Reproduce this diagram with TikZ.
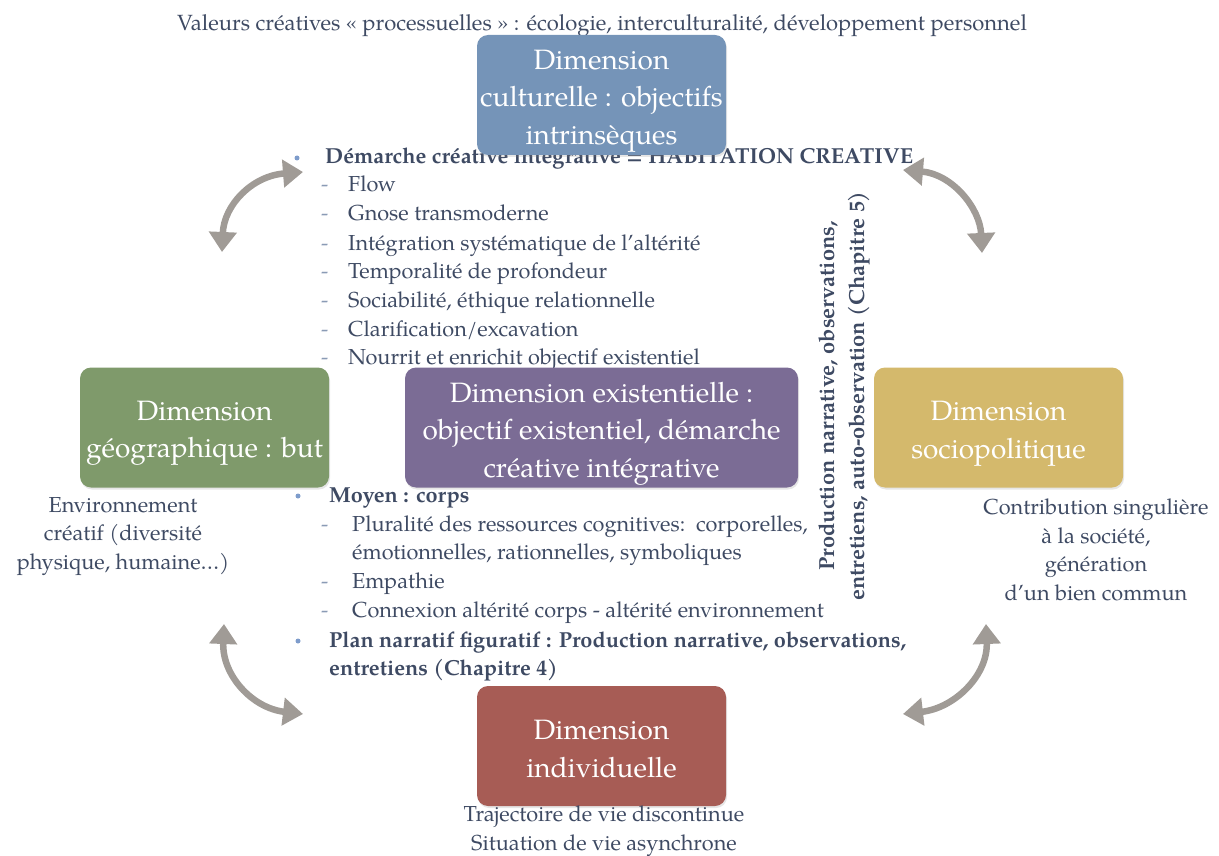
\documentclass[tikz,border=0pt]{standalone}
\usepackage{fontspec}
\setmainfont{TeX Gyre Pagella}
\usetikzlibrary{arrows.meta,shadows}
\definecolor{txt}{HTML}{3E4A63}
\definecolor{bul}{HTML}{7E9CCB}
\definecolor{dsh}{HTML}{8A9BB5}
\definecolor{cblue}{HTML}{7594B8}
\definecolor{cgreen}{HTML}{7F9A6B}
\definecolor{cpurple}{HTML}{7B6C95}
\definecolor{cgold}{HTML}{D4B96C}
\definecolor{cred}{HTML}{A75C55}
\definecolor{agray}{HTML}{A09B96}
\newcommand\bodyfont{\fontsize{21.7}{28.5}\selectfont}
\newcommand\boxfont{\fontsize{28}{37.5}\selectfont}
\begin{document}
\begin{tikzpicture}[x=1pt,y=-1pt,
  dimbox/.style={rounded corners=11pt, minimum width=249pt, minimum height=120pt,
    inner sep=0pt,
    drop shadow={opacity=0.2, shadow xshift=1pt, shadow yshift=-2pt}},
  boxtext/.style={text=white, font=\boxfont, align=center, inner sep=0pt, yshift=-6pt},
  item/.style={anchor=base west, text=txt, font=\bodyfont, inner sep=0pt},
  bitem/.style={item, font=\bodyfont\bfseries},
  dashmark/.style={anchor=base west, text=dsh, font=\bodyfont, inner sep=0pt},
  bulletdot/.style={circle, fill=bul, minimum size=5pt, inner sep=0pt},
  note/.style={text=txt, font=\bodyfont, align=center, inner sep=0pt, anchor=base},
  twoway/.style={draw=agray, line width=6.5pt, line cap=round,
    {Triangle[length=20pt,width=27pt]}-{Triangle[length=20pt,width=27pt]}}
]
\useasboundingbox (0,0) rectangle (1219,856);

% top caption
\node[note, font=\fontsize{22}{28}\selectfont] (values) at (602,31) {Valeurs créatives « processuelles » : écologie, interculturalité, développement personnel};

% list 1
\node[bulletdot] (b1) at (297,158) {};
\node[bitem] (l0) at (325,164) {Démarche créative intégrative = HABITATION CREATIVE};
\node[dashmark] (m1) at (321,192) {-};
\node[item] (l1) at (348,192) {Flow};
\node[dashmark] (m2) at (321,221) {-};
\node[item] (l2) at (348,221) {Gnose transmoderne};
\node[dashmark] (m3) at (321,250) {-};
\node[item] (l3) at (348,250) {Intégration systématique de l’altérité};
\node[dashmark] (m4) at (321,278) {-};
\node[item] (l4) at (348,278) {Temporalité de profondeur};
\node[dashmark] (m5) at (321,307) {-};
\node[item] (l5) at (348,307) {Sociabilité, éthique relationnelle};
\node[dashmark] (m6) at (321,336) {-};
\node[item] (l6) at (348,336) {Clarification/excavation};
\node[dashmark] (m7) at (321,364) {-};
\node[item] (l7) at (348,364) {Nourrit et enrichit objectif existentiel};

% list 2
\node[bulletdot] (b2) at (298,496) {};
\node[bitem] (k0) at (329,502) {Moyen : corps};
\node[dashmark] (n1) at (321,531) {-};
\node[item] (k1) at (352,531) {Pluralité des ressources cognitives:\ \ corporelles,};
\node[item] (k2) at (352,559) {émotionnelles, rationnelles, symboliques};
\node[dashmark] (n3) at (321,588) {-};
\node[item] (k3) at (352,588) {Empathie};
\node[dashmark] (n4) at (321,617) {-};
\node[item] (k4) at (352,617) {Connexion altérité corps - altérité environnement};
\node[bulletdot] (b3) at (298,641) {};
\node[bitem] (k5) at (329,647) {Plan narratif figuratif : Production narrative, observations,};
\node[bitem] (k6) at (329,675) {entretiens (Chapitre 4)};

% vertical text
\node[rotate=90, text=txt, font=\fontsize{21.8}{30}\selectfont\bfseries, align=center, inner sep=0pt] (vert) at (844,396)
  {Production narrative, observations,\\entretiens, auto-observation (Chapitre 5)};

% boxes
\node[dimbox, fill=cblue] (cult) at (601.5,95) {};
\node[boxtext] (cultT) at (cult.center) {Dimension\\culturelle : objectifs\\intrinsèques};
\node[dimbox, fill=cgreen] (geo) at (204.5,427.5) {};
\node[boxtext] (geoT) at (geo.center) {Dimension\\géographique : but};
\node[dimbox, fill=cpurple, minimum width=393pt] (exist) at (601.5,427.5) {};
\node[boxtext] (existT) at (exist.center) {Dimension existentielle :\\objectif existentiel, démarche\\créative intégrative};
\node[dimbox, fill=cgold] (socio) at (998.5,427.5) {};
\node[boxtext] (socioT) at (socio.center) {Dimension\\sociopolitique};
\node[dimbox, fill=cred] (indiv) at (601.5,746) {};
\node[boxtext, yshift=3pt] (indivT) at (indiv.center) {Dimension\\individuelle};

% notes (anchor = baseline of last line)
\node[note] (envnote) at (123,569) {Environnement\\créatif (diversité\\physique, humaine…)};
\node[note] (socnote) at (1096,600) {Contribution singulière\\à la société,\\génération\\d’un bien commun};
\node[note] (indnote) at (604,850) {Trajectoire de vie discontinue\\Situation de vie asynchrone};

% arrows
\coordinate (tlA) at (222,252);
\coordinate (tlB) at (303,172);
\coordinate (trA) at (903,170);
\coordinate (trB) at (982,253);
\coordinate (blA) at (224,624);
\coordinate (blB) at (303,714);
\coordinate (brA) at (986,624);
\coordinate (brB) at (903,714);
\draw[twoway] (tlA) .. controls (224,205) and (252,176) .. (tlB);
\draw[twoway] (trA) .. controls (952,174) and (980,208) .. (trB);
\draw[twoway] (blA) .. controls (222,675) and (252,708) .. (blB);
\draw[twoway] (brA) .. controls (988,675) and (955,708) .. (brB);
\end{tikzpicture}
\end{document}
